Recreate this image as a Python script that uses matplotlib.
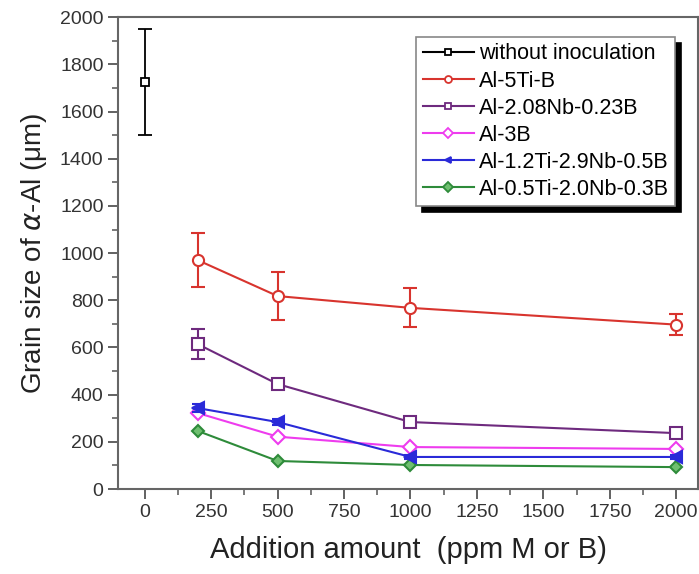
import matplotlib.pyplot as plt
from matplotlib.lines import Line2D
from matplotlib.ticker import MultipleLocator

plt.rcParams['font.family'] = ['Liberation Sans', 'DejaVu Sans']

# data
x_none = [0]
y_none = [1725]
e_none = [225]

x_add = [200, 500, 1000, 2000]
y_5tib = [970, 818, 768, 697]
e_5tib = [115, 100, 83, 45]
y_nbb = [614, 445, 284, 237]
e_nbb = [63, 20, 20, 15]
y_3b = [322, 222, 178, 170]
y_tinb1 = [343, 284, 136, 136]
e_tinb1 = [18, 12, 10, 8]
y_tinb2 = [246, 119, 102, 93]

labels = ["without inoculation", "Al-5Ti-B", "Al-2.08Nb-0.23B", "Al-3B",
          "Al-1.2Ti-2.9Nb-0.5B", "Al-0.5Ti-2.0Nb-0.3B"]
colors = ["black", "#d8342e", "#6e2a7e", "#ee3cee", "#2a2ad8", "#2e8b3a"]
markers = ["s", "o", "s", "D", "<", "D"]
mfcs = ["white", "white", "white", "white", "#2a2ad8", "#6fbf70"]

fig = plt.figure(figsize=(6.99, 5.74), dpi=100)
ax = fig.add_axes([0.169, 0.148, 0.830, 0.822])

ax.errorbar(x_none, y_none, yerr=e_none, color=colors[0], marker="s", ms=6,
            mfc="white", mew=1.3, capsize=5, lw=1.3)
ax.errorbar(x_add, y_5tib, yerr=e_5tib, color=colors[1], marker="o", ms=8,
            mfc="white", mew=1.5, capsize=5, lw=1.5)
ax.errorbar(x_add, y_nbb, yerr=e_nbb, color=colors[2], marker="s", ms=8,
            mfc="white", mew=1.5, capsize=5, lw=1.5)
ax.plot(x_add, y_3b, color=colors[3], marker="D", ms=7, mfc="white",
        mew=1.5, lw=1.5)
ax.errorbar(x_add, y_tinb1, yerr=e_tinb1, color=colors[4], marker="<", ms=8,
            mew=1.5, capsize=4, lw=1.5)
ax.plot(x_add, y_tinb2, color=colors[5], marker="D", ms=6, mfc=mfcs[5],
        mew=1.5, lw=1.5)

ax.set_xlim(-100, 2083)
ax.set_ylim(0, 2000)
ax.xaxis.set_major_locator(MultipleLocator(250))
ax.xaxis.set_minor_locator(MultipleLocator(125))
ax.yaxis.set_major_locator(MultipleLocator(200))
ax.yaxis.set_minor_locator(MultipleLocator(100))
ax.tick_params(which="major", direction="out", length=7, width=1.3,
               labelsize=14, labelcolor="#333333", color="#555555")
ax.tick_params(which="minor", direction="out", length=4, width=1.1,
               color="#555555")
for s in ax.spines.values():
    s.set_color("#666666")
    s.set_linewidth(1.5)

ax.set_xlabel("Addition amount  (ppm M or B)", fontsize=21, color="#222222",
              labelpad=11)
ax.set_ylabel(r"Grain size of $\alpha$-Al (μm)", fontsize=20, color="#222222",
              labelpad=8)

handles = [Line2D([], [], color=c, marker=m, ms=5, mfc=f, mew=1.3, lw=1.5)
           for c, m, f in zip(colors, markers, mfcs)]
leg = ax.legend(handles, labels, loc="upper right",
                bbox_to_anchor=(0.960, 0.958), fontsize=15.5,
                frameon=True, fancybox=False, edgecolor="#888888",
                shadow={"color": "black", "alpha": 1.0, "ox": 4, "oy": -4},
                handlelength=2.4, handletextpad=0.2, borderpad=0.3,
                labelspacing=0.28, borderaxespad=0)
leg.get_frame().set_linewidth(1.2)

fig.savefig("out.png", dpi=100)
